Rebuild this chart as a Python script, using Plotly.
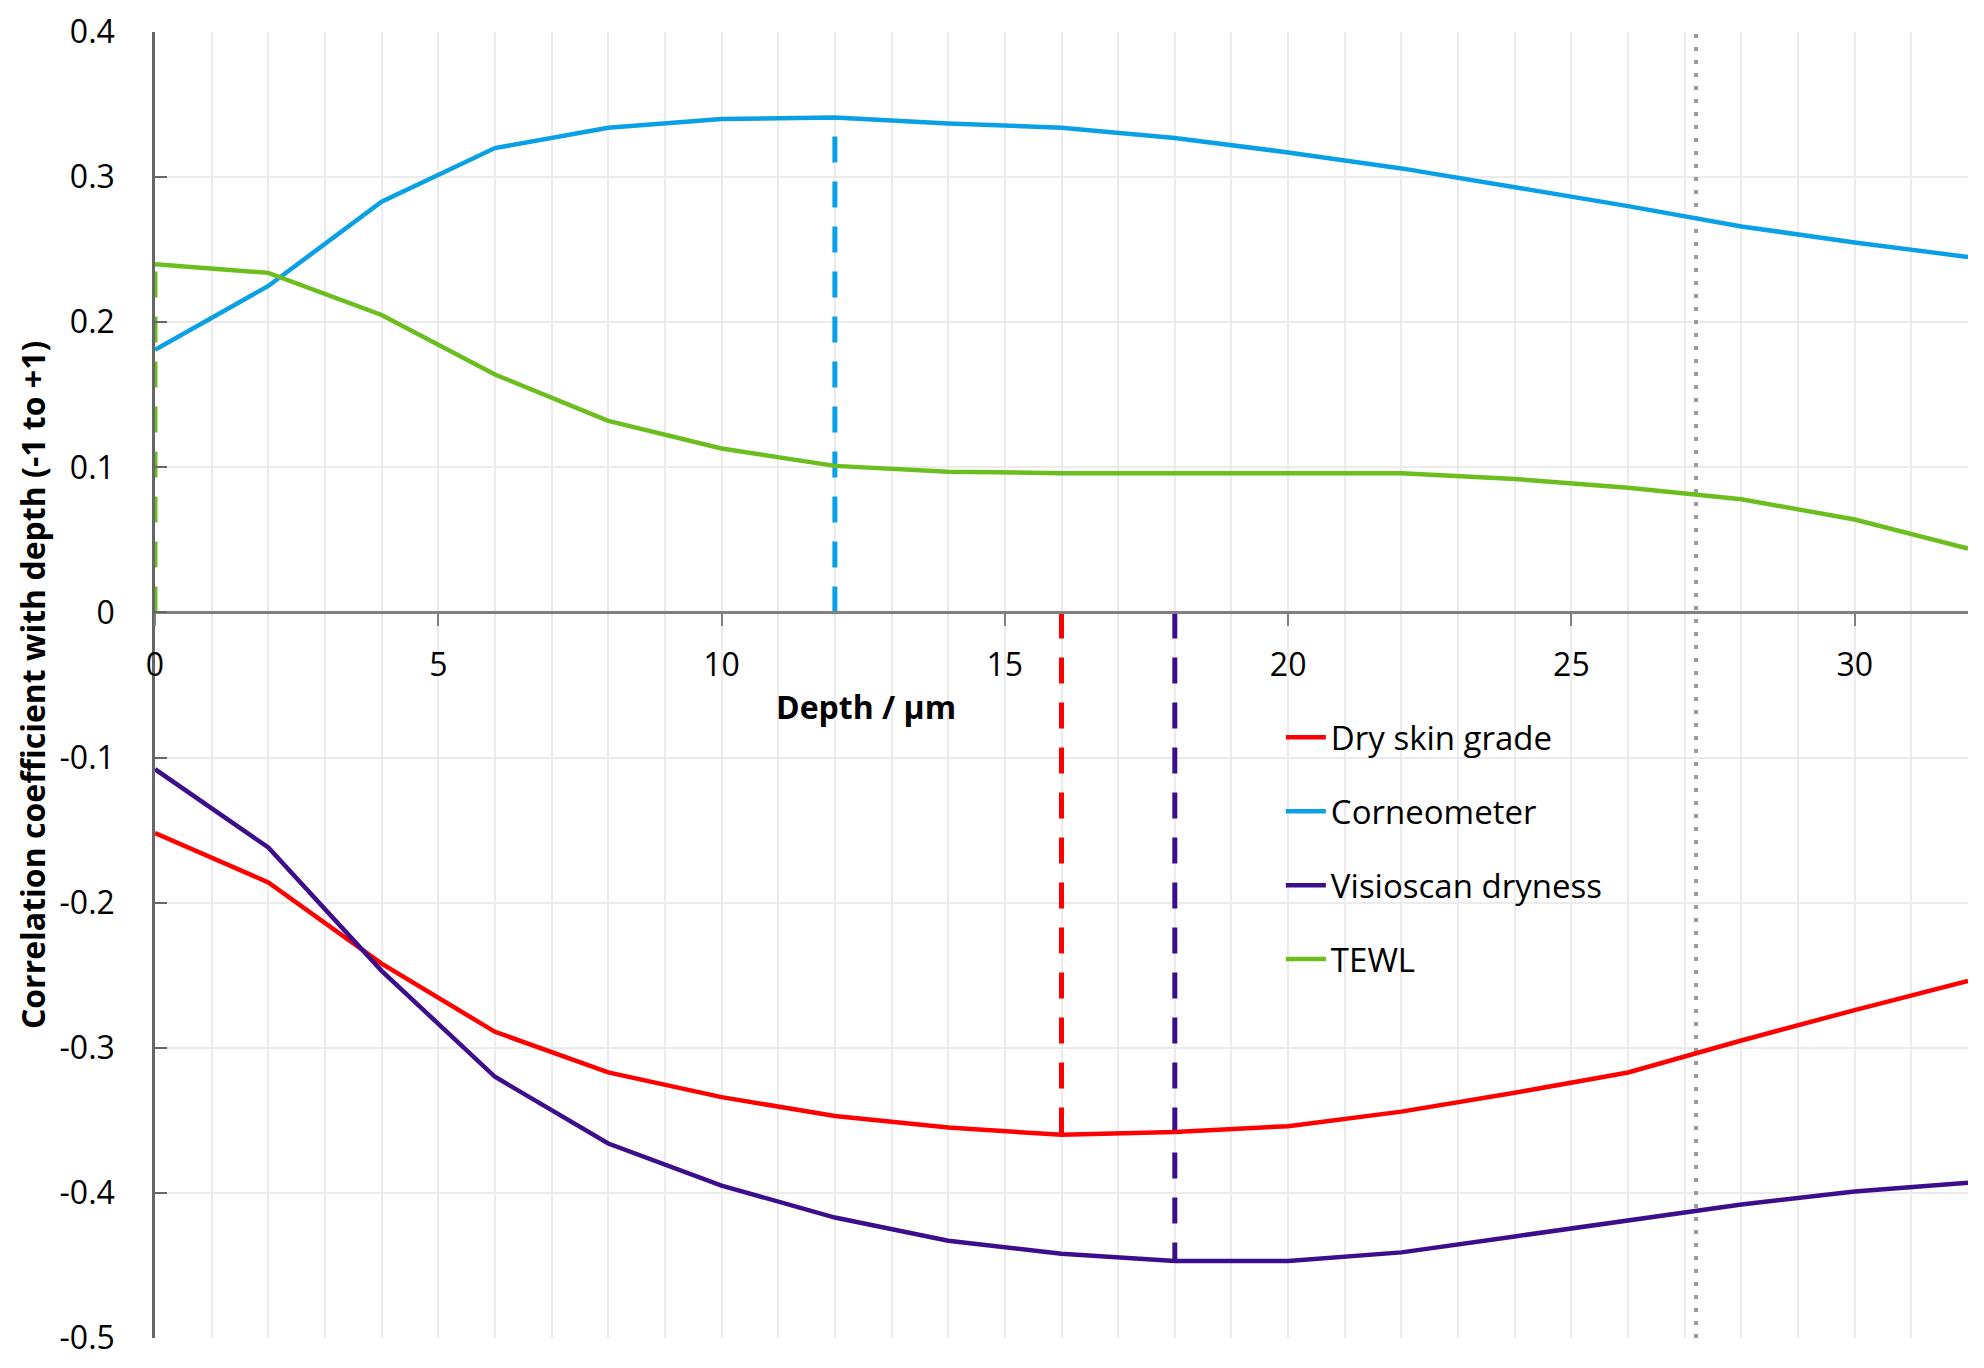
import plotly.graph_objects as go

depth = [0, 2, 4, 6, 8, 10, 12, 14, 16, 18, 20, 22, 24, 26, 28, 30, 32]
dry_skin = [-0.152, -0.186, -0.242, -0.289, -0.317, -0.334, -0.347, -0.355, -0.360, -0.358,
            -0.354, -0.344, -0.331, -0.317, -0.295, -0.274, -0.254]
corneometer = [0.181, 0.225, 0.283, 0.320, 0.334, 0.340, 0.341, 0.337, 0.334, 0.327,
               0.317, 0.306, 0.293, 0.280, 0.266, 0.255, 0.245]
visioscan = [-0.108, -0.162, -0.247, -0.320, -0.366, -0.395, -0.417, -0.433, -0.442, -0.447,
             -0.447, -0.441, -0.430, -0.419, -0.408, -0.399, -0.393]
tewl = [0.240, 0.234, 0.205, 0.164, 0.132, 0.113, 0.101, 0.097, 0.096, 0.096,
        0.096, 0.096, 0.092, 0.086, 0.078, 0.064, 0.044]

series_names = ["Dry skin grade", "Corneometer", "Visioscan dryness", "TEWL"]
series_colors = ["#FF0000", "#0AA0E6", "#3C0E8C", "#6CBE1E"]
series_values = [dry_skin, corneometer, visioscan, tewl]
# depth of strongest correlation marked by dashed drop lines
peak_depths = [16, 12, 18, 0]
marker_depth = 27.2

x_ticks = [0, 5, 10, 15, 20, 25, 30]
y_ticks = [0.4, 0.3, 0.2, 0.1, 0, -0.1, -0.2, -0.3, -0.4, -0.5]
y_tick_labels = ["0.4", "0.3", "0.2", "0.1", "0", "-0.1", "-0.2", "-0.3", "-0.4", "-0.5"]

FONT = "Open Sans"

fig = go.Figure()

# vertical dotted reference line
fig.add_trace(go.Scatter(x=[marker_depth, marker_depth], y=[-0.5, 0.4], mode="lines",
                         line=dict(color="#9A9A9A", width=4, dash="4px,9px"),
                         showlegend=False, hoverinfo="skip"))

# dashed drop lines to the peak values
for name, color, vals, pk in zip(series_names, series_colors, series_values, peak_depths):
    v = vals[depth.index(pk)]
    fig.add_trace(go.Scatter(x=[pk, pk], y=[0, v], mode="lines",
                             line=dict(color=color, width=5, dash="26px,19px"),
                             showlegend=False, hoverinfo="skip"))

for i, (name, color, vals) in enumerate(zip(series_names, series_colors, series_values)):
    fig.add_trace(go.Scatter(x=depth, y=vals, mode="lines", name=name,
                             legendgroup=f"g{i}",
                             line=dict(color=color, width=4.5)))

fig.update_layout(
    width=1976, height=1352,
    margin=dict(l=147, r=16, t=24, b=22, autoexpand=False),
    paper_bgcolor="white", plot_bgcolor="white",
    font=dict(family=FONT, color="black"),
    legend=dict(x=0.621, y=0.4813, xanchor="left", yanchor="top",
                font=dict(size=33, family=FONT, color="black"),
                tracegroupgap=28, bgcolor="rgba(0,0,0,0)", itemwidth=40),
    xaxis=dict(range=[0, 32], tickvals=x_ticks, ticks="outside", ticklen=12, tickwidth=2,
               tickcolor="#808080", showline=True, linecolor="#808080", linewidth=2.5,
               anchor="free", position=0.5 / 0.9, showgrid=True, gridcolor="#EBEBEB",
               gridwidth=2, minor=dict(dtick=1, showgrid=True, gridcolor="#EBEBEB", gridwidth=2),
               tickfont=dict(size=32, family=FONT), zeroline=False, ticklabelstandoff=11,
               automargin=False, ticklabeloverflow="allow"),
    yaxis=dict(range=[-0.5, 0.4], tickvals=y_ticks, ticktext=y_tick_labels, ticks="inside",
               ticklen=12, tickwidth=2, tickcolor="#666666", showline=True, linecolor="#666666",
               linewidth=2.5, showgrid=True, gridcolor="#EBEBEB", gridwidth=2, zeroline=False,
               tickfont=dict(size=32, family=FONT), ticklabelstandoff=31, automargin=False,
               ticklabeloverflow="allow"),
)

fig.add_annotation(x=12.55, y=-0.065, xref="x", yref="y", text="<b>Depth / µm</b>",
                   showarrow=False, font=dict(size=32, family=FONT, color="black"))
fig.add_annotation(x=-0.0678, y=0.5, xref="paper", yref="paper", textangle=-90,
                   xanchor="center", yanchor="middle",
                   text="<b>Correlation coefficient with depth (-1 to +1)</b>",
                   showarrow=False, font=dict(size=32, family=FONT, color="black"))

fig.write_html("out.html")
